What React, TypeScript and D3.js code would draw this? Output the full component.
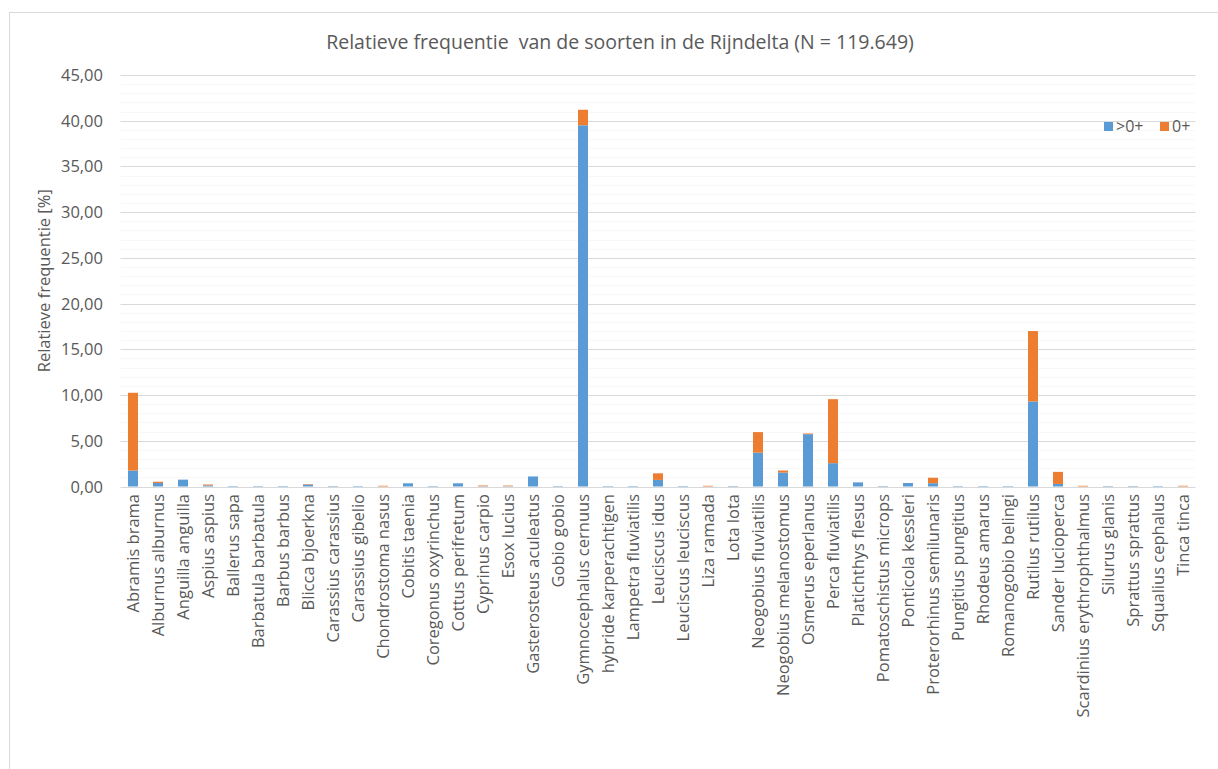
import React from "react";
import * as d3 from "d3";

const categories = [
  "Abramis brama", "Alburnus alburnus", "Anguilla anguilla", "Aspius aspius", "Ballerus sapa",
  "Barbatula barbatula", "Barbus barbus", "Blicca bjoerkna", "Carassius carassius", "Carassius gibelio",
  "Chondrostoma nasus", "Cobitis taenia", "Coregonus oxyrinchus", "Cottus perifretum", "Cyprinus carpio",
  "Esox lucius", "Gasterosteus aculeatus", "Gobio gobio", "Gymnocephalus cernuus", "hybride karperachtigen",
  "Lampetra fluviatilis", "Leuciscus idus", "Leuciscus leuciscus", "Liza ramada", "Lota lota",
  "Neogobius fluviatilis", "Neogobius melanostomus", "Osmerus eperlanus", "Perca fluviatilis", "Platichthys flesus",
  "Pomatoschistus microps", "Ponticola kessleri", "Proterorhinus semilunaris", "Pungitius pungitius", "Rhodeus amarus",
  "Romanogobio belingi", "Rutilus rutilus", "Sander lucioperca", "Scardinius erythrophthalmus", "Silurus glanis",
  "Sprattus sprattus", "Squalius cephalus", "Tinca tinca",
];

const adult = [
  1.75, 0.38, 0.75, 0.12, 0.05, 0.05, 0.05, 0.22, 0.05, 0.05,
  0.0, 0.35, 0.05, 0.35, 0.03, 0.03, 1.1, 0.05, 39.5, 0.05,
  0.05, 0.72, 0.05, 0.0, 0.05, 3.7, 1.52, 5.72, 2.55, 0.45,
  0.05, 0.38, 0.36, 0.05, 0.05, 0.05, 9.3, 0.28, 0.0, 0.05,
  0.05, 0.05, 0.0,
];

const juvenile = [
  8.5, 0.14, 0.0, 0.1, 0.0, 0.0, 0.0, 0.05, 0.0, 0.0,
  0.08, 0.0, 0.0, 0.0, 0.08, 0.07, 0.0, 0.0, 1.7, 0.0,
  0.0, 0.72, 0.0, 0.08, 0.0, 2.25, 0.23, 0.08, 7.0, 0.0,
  0.0, 0.0, 0.6, 0.0, 0.0, 0.0, 7.7, 1.32, 0.08, 0.0,
  0.0, 0.0, 0.08,
];

const yTicks = [0, 5, 10, 15, 20, 25, 30, 35, 40, 45];
const seriesNames = [">0+", "0+"];
const seriesColors = ["#5B9BD5", "#ED7D31"];
const title = "Relatieve frequentie  van de soorten in de Rijndelta (N = 119.649)";
const yTitle = "Relatieve frequentie [%]";

const W = 1218;
const H = 769;
const plotLeft = 120.5;
const plotRight = 1195.5;
const plotTop = 75;
const plotBottom = 486.5;
const FONT = "'Open Sans', 'Noto Sans', sans-serif";
const TEXT = "#595959";

export default function App() {
  const x = d3.scaleBand<string>().domain(categories).range([plotLeft, plotRight]).paddingInner(0.6).paddingOuter(0.3);
  const y = d3.scaleLinear().domain([0, 45]).range([plotBottom, plotTop]);
  const minor = d3.range(0, 46, 1).filter((v) => v % 5 !== 0);
  const fmt = (v: number) => v.toFixed(2).replace(".", ",");
  const bw = x.bandwidth();

  return (
    <svg width={W} height={H} style={{ position: "absolute", left: 0, top: 0, background: "#fff" }}>
      <rect x={9.5} y={12.5} width={W + 10} height={H + 10} fill="#fff" stroke="#d9d9d9" strokeWidth={1} />
      <text x={620} y={49} textAnchor="middle" fontFamily={FONT} fontSize={19.5} fill={TEXT} style={{ whiteSpace: "pre" }}>{title}</text>
      {minor.map((v) => (
        <line key={"m" + v} x1={plotLeft} x2={plotRight} y1={Math.round(y(v)) + 0.5} y2={Math.round(y(v)) + 0.5} stroke="#f8f8f8" />
      ))}
      {yTicks.map((v) => (
        <g key={v}>
          <line x1={plotLeft} x2={plotRight} y1={Math.round(y(v)) + 0.5} y2={Math.round(y(v)) + 0.5} stroke="#d9d9d9" />
          <text x={103} y={y(v) + 6} textAnchor="end" fontFamily={FONT} fontSize={16.5} fill={TEXT}>{fmt(v)}</text>
        </g>
      ))}
      <text transform={`translate(50,${(plotTop + plotBottom) / 2}) rotate(-90)`} textAnchor="middle" fontFamily={FONT} fontSize={16.5} fill={TEXT}>{yTitle}</text>
      {categories.map((c, i) => {
        const x0 = x(c) as number;
        const a = adult[i];
        const j = juvenile[i];
        return (
          <g key={c}>
            {a > 0 && <rect x={x0} y={y(a)} width={bw} height={y(0) - y(a)} fill={seriesColors[0]} />}
            {j > 0 && <rect x={x0} y={y(a + j)} width={bw} height={y(a) - y(a + j)} fill={seriesColors[1]} />}
            <text transform={`translate(${x0 + bw / 2 + 6},494) rotate(-90)`} textAnchor="end" fontFamily={FONT} fontSize={16.5} fill={TEXT}>{c}</text>
          </g>
        );
      })}
      <g>
        <rect x={1104} y={122} width={9} height={9} fill={seriesColors[0]} />
        <text x={1116} y={132} fontFamily={FONT} fontSize={16} fill={TEXT}>{seriesNames[0]}</text>
        <rect x={1160} y={122} width={9} height={9} fill={seriesColors[1]} />
        <text x={1172} y={132} fontFamily={FONT} fontSize={16} fill={TEXT}>{seriesNames[1]}</text>
      </g>
    </svg>
  );
}
